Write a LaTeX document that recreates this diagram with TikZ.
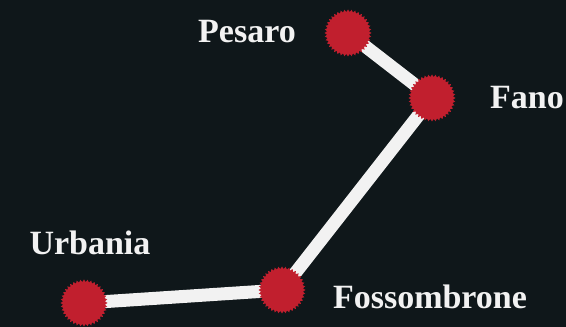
\documentclass[tikz,border=0pt]{standalone}
\usepackage{fontspec}
\setmainfont{Liberation Serif}
\usetikzlibrary{shapes.geometric}
\definecolor{bgc}{HTML}{0F171A}
\definecolor{dotc}{HTML}{C11F2E}
\definecolor{txtc}{HTML}{F2F2F2}
\pgfdeclarelayer{bgl}
\pgfdeclarelayer{linel}
\pgfsetlayers{bgl,linel,main}
\begin{document}
\begin{tikzpicture}[x=1pt,y=1pt,
  town/.style={star, star points=40, star point height=2.5pt, minimum size=47pt, inner sep=0pt, fill=dotc, draw=none},
  lbl/.style={text=txtc, font=\fontsize{34}{34}\selectfont\bfseries, inner sep=0pt},
  road/.style={line width=13pt, draw=txtc}]
\begin{pgfonlayer}{bgl}
\fill[bgc] (0,0) rectangle (566,327);
\end{pgfonlayer}
\useasboundingbox (0,0) rectangle (566,327);
\node[town] (pes) at (348,294) {};
\node[town] (fan) at (432,229) {};
\node[town] (fos) at (282,37) {};
\node[town] (urb) at (84,24) {};
\node[lbl] (lpes) at (247,295) {Pesaro};
\node[lbl] (lfan) at (527,229) {Fano};
\node[lbl] (lurb) at (90,84) {Urbania};
\node[lbl] (lfos) at (430,30) {Fossombrone};
\begin{pgfonlayer}{linel}
\draw[road] (pes.center) -- (fan.center) -- (fos.center) -- (urb.center);
\end{pgfonlayer}
\end{tikzpicture}
\end{document}
